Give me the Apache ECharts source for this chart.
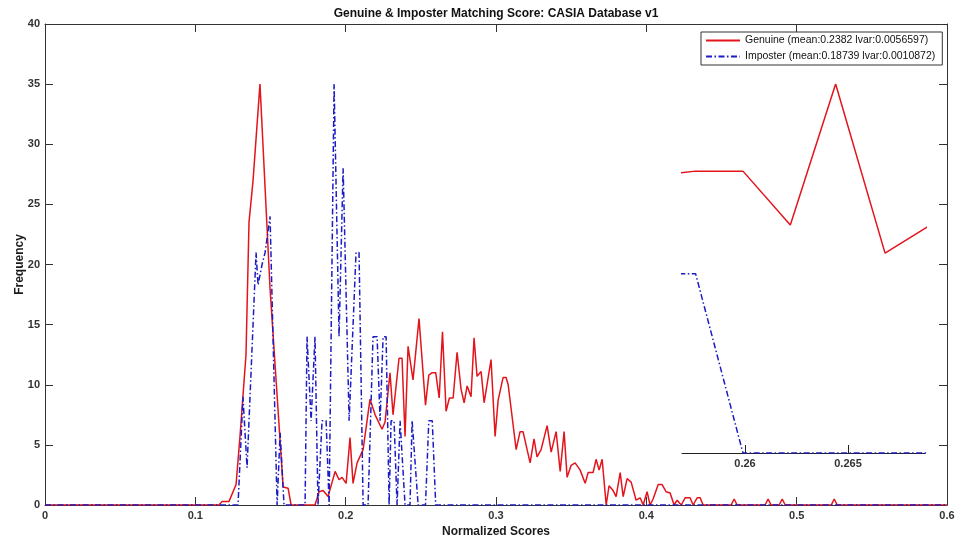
<!DOCTYPE html>
<html>
<head>
<meta charset="UTF-8">
<title>Genuine & Imposter Matching Score: CASIA Database v1</title>
<script src="https://cdn.jsdelivr.net/npm/echarts@6.0.0/dist/echarts.min.js"></script>
<style>
  html, body { margin: 0; padding: 0; background: #fff; }
  #chart { width: 957px; height: 540px; }
</style>
</head>
<body>
<div id="chart"></div>
<script>
  const titleText = 'Genuine & Imposter Matching Score: CASIA Database v1';
  const genuineName = 'Genuine (mean:0.2382 lvar:0.0056597)';
  const imposterName = 'Imposter (mean:0.18739 lvar:0.0010872)';

  // [normalized score, frequency]
  const genuinePoints = [
    [0, 0], [0.1158, 0], [0.1178, 0.3], [0.1224, 0.3], [0.1271, 1.7], [0.1297, 5.7],
    [0.1337, 12.5], [0.1357, 23.5], [0.1384, 27], [0.1430, 35], [0.1497, 18],
    [0.1584, 1.5], [0.1597, 1.4], [0.1617, 1.4], [0.1637, 0], [0.1796, 0],
    [0.1823, 1.1], [0.1850, 1.2], [0.1883, 0.7], [0.1930, 2.8], [0.1956, 2.1],
    [0.1976, 2.3], [0.2003, 1.8], [0.2029, 5.6], [0.2049, 1.8], [0.2076, 3.5],
    [0.2116, 4.6], [0.2162, 8.8], [0.2196, 7.5], [0.2242, 6.3], [0.2262, 6.9],
    [0.2295, 11.0], [0.2315, 7.5], [0.2355, 12.2], [0.2375, 12.2], [0.2395, 5.7],
    [0.2415, 13.2], [0.2448, 10.4], [0.2488, 15.5], [0.2531, 8.3], [0.2553, 10.8],
    [0.2576, 11.0], [0.2599, 11.0], [0.2622, 8.9], [0.2644, 14.4], [0.2668, 7.8],
    [0.2690, 8.9], [0.2715, 8.9], [0.2741, 12.7], [0.2768, 9.6], [0.2788, 8.5],
    [0.2808, 9.9], [0.2834, 9.0], [0.2854, 13.9], [0.2874, 10.7], [0.2901, 11.1],
    [0.2921, 8.5], [0.2967, 12.1], [0.2994, 5.7], [0.3014, 8.7], [0.3047, 10.6],
    [0.3067, 10.6], [0.3081, 10.0], [0.3134, 4.6], [0.3160, 6.1], [0.3180, 6.1],
    [0.3207, 4.6], [0.3227, 3.5], [0.3253, 5.5], [0.3273, 4.0], [0.3300, 4.6],
    [0.3340, 6.6], [0.3367, 4.4], [0.3400, 6.1], [0.3427, 2.8], [0.3453, 6.1],
    [0.3473, 2.3], [0.3500, 3.3], [0.3526, 3.5], [0.3560, 2.9], [0.3573, 2.9],
    [0.3593, 1.8], [0.3613, 2.7], [0.3646, 2.7], [0.3666, 3.8], [0.3686, 2.9],
    [0.3706, 3.8], [0.3733, 0], [0.3752, 1.6], [0.3779, 1.2], [0.3799, 0.7],
    [0.3826, 2.7], [0.3846, 0.7], [0.3872, 2.2], [0.3899, 1.9], [0.3932, 0.4],
    [0.3959, 0.6], [0.3979, 0], [0.4005, 1.1], [0.4025, 0], [0.4045, 0.5],
    [0.4079, 1.7], [0.4105, 1.7], [0.4132, 1.1], [0.4158, 1.0], [0.4185, 0],
    [0.4205, 0.4], [0.4232, 0], [0.4258, 0.6], [0.4291, 0.6], [0.4311, 0],
    [0.4338, 0.6], [0.4358, 0.6], [0.4378, 0], [0.4564, 0], [0.4584, 0.5],
    [0.4604, 0], [0.4790, 0], [0.4810, 0.5], [0.4830, 0], [0.4884, 0],
    [0.4904, 0.5], [0.4924, 0], [0.5230, 0], [0.5250, 0.5], [0.5270, 0], [0.6, 0]
  ];

  const imposterPoints = [
    [0, 0], [0.1284, 0], [0.1317, 9.0], [0.1344, 3.1], [0.1357, 3.1], [0.1404, 21],
    [0.1417, 18.3], [0.1444, 20], [0.1464, 21], [0.1497, 24], [0.1544, 0],
    [0.1564, 6.0], [0.1590, 0], [0.1730, 0], [0.1743, 14], [0.1770, 7],
    [0.1796, 14], [0.1816, 0], [0.1843, 7], [0.1870, 7], [0.1890, 0],
    [0.1923, 35], [0.1956, 14], [0.1983, 28], [0.2023, 7], [0.2069, 21],
    [0.2089, 21], [0.2116, 0], [0.2149, 0], [0.2182, 14], [0.2209, 14],
    [0.2229, 7], [0.2249, 14], [0.2269, 14], [0.2289, 0], [0.2302, 7],
    [0.2322, 7], [0.2342, 0], [0.2362, 7], [0.2375, 7], [0.2395, 0],
    [0.2428, 0], [0.2442, 7], [0.2455, 7], [0.2482, 0], [0.2531, 0],
    [0.2553, 7], [0.2576, 7], [0.2599, 0], [0.6, 0]
  ];

  // zoomed inset window
  const insetRangeX = [0.25694, 0.26874];
  const insetRangeY = [0, 14.4];
  const insetTicks = [0.26, 0.265];

  const font = 'Liberation Sans, Helvetica, Arial, sans-serif';
  const axisColor = '#333';
  const red = '#e3141c';
  const blue = '#1c1cc4';
  const dashDot = [6, 2.5, 1.5, 2.5];

  const labelStyle = { fontFamily: font, fontSize: 11, fontWeight: 'bold', color: '#333', margin: 5 };
  const nameStyle = { fontFamily: font, fontSize: 12, fontWeight: 'bold', color: '#1a1a1a' };

  function frameAxis(extra) {
    return Object.assign({
      type: 'value',
      gridIndex: 0,
      axisLine: { show: true, onZero: false, lineStyle: { color: axisColor, width: 1 } },
      axisTick: { show: true, inside: true, length: 8, lineStyle: { color: axisColor } },
      splitLine: { show: false }
    }, extra);
  }

  const chart = echarts.init(document.getElementById('chart'));

  chart.setOption({
    animation: false,
    title: {
      text: titleText,
      left: 496,
      textAlign: 'center',
      top: 8,
      padding: 0,
      textStyle: { fontFamily: font, fontSize: 12, fontWeight: 'bold', color: '#111' }
    },
    legend: {
      data: [genuineName, imposterName],
      orient: 'vertical',
      left: 701,
      top: 32,
      padding: [3, 7, 3, 4],
      itemGap: 5,
      itemWidth: 34,
      itemHeight: 12,
      backgroundColor: '#fff',
      borderColor: '#333',
      borderWidth: 1,
      itemStyle: { color: 'transparent', borderColor: 'transparent', borderWidth: 0, opacity: 0 },
      textStyle: { fontFamily: font, fontSize: 10.5, color: '#111' }
    },
    grid: [
      { left: 45, right: 10, top: 24, bottom: 35, outerBoundsMode: 'none' },
      { left: 682, width: 243, top: 84, height: 369, outerBoundsMode: 'none' }
    ],
    xAxis: [
      frameAxis({
        position: 'bottom', min: 0, max: 0.6, interval: 0.1,
        axisLabel: labelStyle,
        name: 'Normalized Scores', nameLocation: 'middle', nameGap: 19, nameTextStyle: nameStyle
      }),
      frameAxis({ position: 'top', min: 0, max: 0.6, interval: 0.1, axisLabel: { show: false } }),
      {
        type: 'value', gridIndex: 1, position: 'bottom',
        min: insetRangeX[0], max: insetRangeX[1],
        axisLine: { show: true, onZero: false, lineStyle: { color: '#222', width: 1 } },
        axisTick: { show: true, inside: true, length: 8, customValues: insetTicks, lineStyle: { color: '#222' } },
        axisLabel: Object.assign({ customValues: insetTicks }, labelStyle),
        splitLine: { show: false }
      }
    ],
    yAxis: [
      frameAxis({
        position: 'left', min: 0, max: 40, interval: 5,
        axisLabel: labelStyle,
        name: 'Frequency', nameLocation: 'middle', nameGap: 19, nameMoveOverlap: false,
        nameTextStyle: nameStyle
      }),
      frameAxis({ position: 'right', min: 0, max: 40, interval: 5, axisLabel: { show: false } }),
      { type: 'value', gridIndex: 1, min: insetRangeY[0], max: insetRangeY[1], show: false }
    ],
    series: [
      {
        name: genuineName, type: 'line', xAxisIndex: 0, yAxisIndex: 0,
        data: genuinePoints, symbol: 'none',
        lineStyle: { color: red, width: 1.5 }, itemStyle: { color: red }
      },
      {
        name: imposterName, type: 'line', xAxisIndex: 0, yAxisIndex: 0,
        data: imposterPoints, symbol: 'none',
        lineStyle: { color: blue, width: 1.5, type: dashDot }, itemStyle: { color: blue }
      },
      {
        name: genuineName, type: 'line', xAxisIndex: 2, yAxisIndex: 2,
        data: genuinePoints, symbol: 'none', clip: true,
        lineStyle: { color: red, width: 1.5 }, itemStyle: { color: red }
      },
      {
        name: imposterName, type: 'line', xAxisIndex: 2, yAxisIndex: 2,
        data: imposterPoints, symbol: 'none', clip: true,
        lineStyle: { color: blue, width: 1.5, type: dashDot }, itemStyle: { color: blue }
      }
    ]
  });

  window.addEventListener('resize', function () {
    chart.resize();
  });
</script>
</body>
</html>
